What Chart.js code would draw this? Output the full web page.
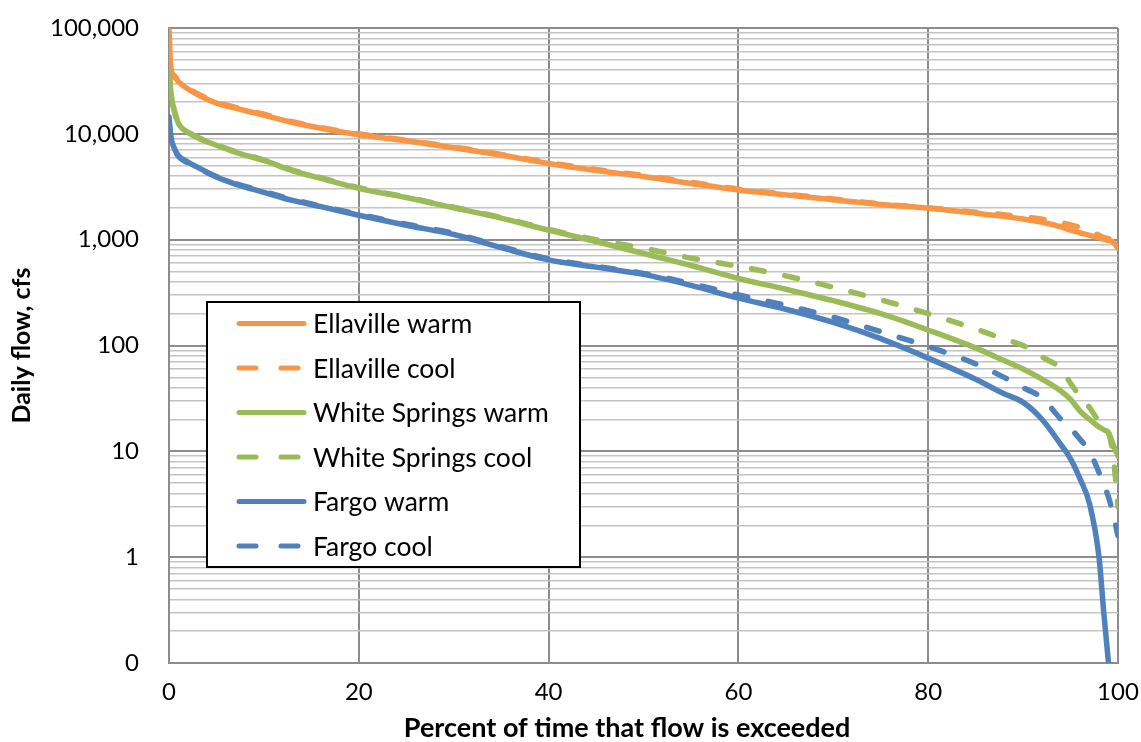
<!DOCTYPE html>
<html>
<head>
<meta charset="utf-8">
<script src="https://cdn.jsdelivr.net/npm/chart.js@4.4.1/dist/chart.umd.min.js"></script>
<style>
  body { margin: 0; background: #fff; }
  #wrap { width: 1141px; height: 742px; }
</style>
</head>
<body>
<div id="wrap"><canvas id="flowChart" width="1141" height="742"></canvas></div>
<script>
// Percent of time exceeded (x) and daily flow (cfs)
const percent = [0, 0.2, 0.5, 1, 2, 3, 5, 7, 10, 13, 16, 20, 25, 30, 35, 40, 45, 50, 55, 60,
                 65, 70, 75, 80, 85, 88, 90, 92, 94, 95, 96, 97, 98, 98.5, 99, 99.5, 100];

const ellavilleWarm = [95000, 40000, 35000, 31000, 26500, 23500, 19500, 17500, 15000, 12800, 11300, 9800,
                       8600, 7400, 6300, 5250, 4500, 3950, 3400, 2950, 2650, 2380, 2150, 1980, 1780, 1660,
                       1570, 1460, 1320, 1230, 1160, 1100, 1040, 1010, 980, 950, 830];
const ellavilleCool = [90000, 42000, 36000, 32000, 27000, 24000, 20000, 17800, 15300, 13000, 11500, 10000,
                       8700, 7500, 6400, 5350, 4600, 4050, 3500, 3000, 2700, 2420, 2180, 2000, 1820, 1720,
                       1640, 1560, 1450, 1380, 1300, 1200, 1100, 1050, 1020, 980, 900];
const whiteWarm = [40000, 25000, 17000, 12500, 10300, 9200, 7800, 6700, 5600, 4500, 3800, 3050,
                   2500, 2000, 1600, 1230, 960, 740, 570, 430, 340, 265, 200, 140, 95, 72,
                   60, 48, 37, 31, 24, 20, 17, 16, 15, 11.5, 9];
const whiteCool = [38000, 24000, 17500, 12700, 10500, 9300, 7900, 6800, 5650, 4550, 3850, 3100,
                   2520, 2030, 1620, 1250, 1000, 830, 670, 560, 455, 355, 270, 200, 143, 115,
                   100, 78, 60, 44, 33, 26, 19, 17, 15, 9, 3];
const fargoWarm = [14500, 9400, 7500, 6200, 5400, 4850, 3900, 3350, 2800, 2350, 2050, 1700,
                   1370, 1120, 840, 645, 550, 470, 370, 280, 220, 165, 116, 76, 48, 35,
                   29, 20, 11.5, 8.5, 5.5, 3.2, 1.0, 0.3, 0.1, null, null];
const fargoCool = [13000, 9000, 7300, 6100, 5300, 4750, 3950, 3400, 2850, 2400, 2080, 1740,
                   1400, 1150, 860, 660, 560, 480, 385, 300, 240, 185, 135, 98, 67, 50,
                   40, 32, 20, 16.5, 13, 10, 6.3, 4.8, 3.7, 2.5, 1.6];

const seriesNames = ['Ellaville warm', 'Ellaville cool', 'White Springs warm', 'White Springs cool', 'Fargo warm', 'Fargo cool'];
const seriesValues = [ellavilleWarm, ellavilleCool, whiteWarm, whiteCool, fargoWarm, fargoCool];
const seriesColors = ['#F79646', '#F79646', '#9BBB59', '#9BBB59', '#4F81BD', '#4F81BD'];

const xTicks = [0, 20, 40, 60, 80, 100];
const yMajorTicks = [0.1, 1, 10, 100, 1000, 10000, 100000];

const FONT = 'Lato, "Open Sans", sans-serif';

function toPoints(values) {
    return percent.map((p, i) => ({ x: p, y: values[i] }));
}

const datasets = seriesNames.map((name, i) => ({
    label: name,
    data: toPoints(seriesValues[i]),
    borderColor: seriesColors[i],
    backgroundColor: seriesColors[i],
    borderWidth: 5.5,
    borderDash: name.endsWith('cool') ? [13, 21] : [],
    borderCapStyle: 'round',
    borderJoinStyle: 'round',
    pointRadius: 0,
    cubicInterpolationMode: 'monotone',
    fill: false,
    order: seriesNames.length - i
}));

// Legend box drawn inside the plot, like the original
const boxLegend = {
    id: 'boxLegend',
    afterDraw(chart) {
        const ctx = chart.ctx;
        const left = 207, top = 302, right = 580, bottom = 567;
        ctx.save();
        ctx.fillStyle = '#fff';
        ctx.fillRect(left, top, right - left, bottom - top);
        ctx.strokeStyle = '#000';
        ctx.lineWidth = 2;
        ctx.strokeRect(left, top, right - left, bottom - top);
        chart.data.datasets.forEach((ds, i) => {
            const y = top + 21.5 + i * 44.5;
            ctx.beginPath();
            ctx.strokeStyle = ds.borderColor;
            ctx.lineWidth = 5;
            ctx.lineCap = 'round';
            ctx.setLineDash(ds.borderDash.length ? [17, 25] : []);
            ctx.moveTo(239, y);
            ctx.lineTo(304, y);
            ctx.stroke();
            ctx.setLineDash([]);
            ctx.fillStyle = '#000';
            ctx.font = '26.5px ' + FONT;
            ctx.textBaseline = 'middle';
            ctx.fillText(ds.label, 313, y + 1);
        });
        ctx.restore();
    }
};

const ctx = document.getElementById('flowChart').getContext('2d');
const flowChart = new Chart(ctx, {
    type: 'line',
    data: { datasets: datasets },
    options: {
        responsive: false,
        animation: false,
        layout: { padding: { left: 0, top: 28, right: 23, bottom: 0 } },
        plugins: {
            legend: { display: false },
            tooltip: { enabled: false }
        },
        scales: {
            x: {
                type: 'linear',
                min: 0,
                max: 100,
                afterBuildTicks: function(scale) {
                    scale.ticks = xTicks.map(v => ({ value: v }));
                },
                afterFit: function(scale) {
                    scale.height = 79;
                    scale.paddingLeft = 0;
                    scale.paddingRight = 0;
                },
                grid: { color: '#8c8c8c', lineWidth: 2, drawTicks: false },
                border: { color: '#8c8c8c', width: 2 },
                ticks: {
                    padding: 15,
                    color: '#000',
                    font: { family: FONT, size: 24 },
                    maxRotation: 0
                },
                title: {
                    display: true,
                    text: 'Percent of time that flow is exceeded     ',
                    color: '#000',
                    font: { family: FONT, size: 27, weight: 'bold' },
                    padding: { top: 0, bottom: -2 }
                }
            },
            y: {
                type: 'logarithmic',
                min: 0.1,
                max: 100000,
                afterBuildTicks: function(scale) {
                    const ticks = [];
                    yMajorTicks.forEach((v, i) => {
                        ticks.push({ value: v, major: true });
                        if (i < yMajorTicks.length - 1) {
                            for (let k = 2; k <= 9; k++) ticks.push({ value: v * k, major: false });
                        }
                    });
                    scale.ticks = ticks;
                },
                afterFit: function(scale) {
                    scale.width = 169;
                    scale.paddingTop = 0;
                    scale.paddingBottom = 0;
                },
                grid: {
                    drawTicks: false,
                    color: c => (c.tick && yMajorTicks.includes(c.tick.value)) ? '#8c8c8c' : '#c4c4c4',
                    lineWidth: c => (c.tick && yMajorTicks.includes(c.tick.value)) ? 2 : 1.5
                },
                border: { color: '#8c8c8c', width: 2 },
                ticks: {
                    padding: 30,
                    color: '#000',
                    autoSkip: false,
                    font: { family: FONT, size: 24 },
                    callback: function(value) {
                        if (!yMajorTicks.includes(value)) return '';
                        return Math.round(value).toLocaleString('en-US');
                    }
                },
                title: {
                    display: true,
                    text: 'Daily flow, cfs',
                    color: '#000',
                    font: { family: FONT, size: 25, weight: 'bold' },
                    padding: { top: 7, bottom: 0 }
                }
            }
        }
    },
    plugins: [boxLegend]
});
</script>
</body>
</html>
